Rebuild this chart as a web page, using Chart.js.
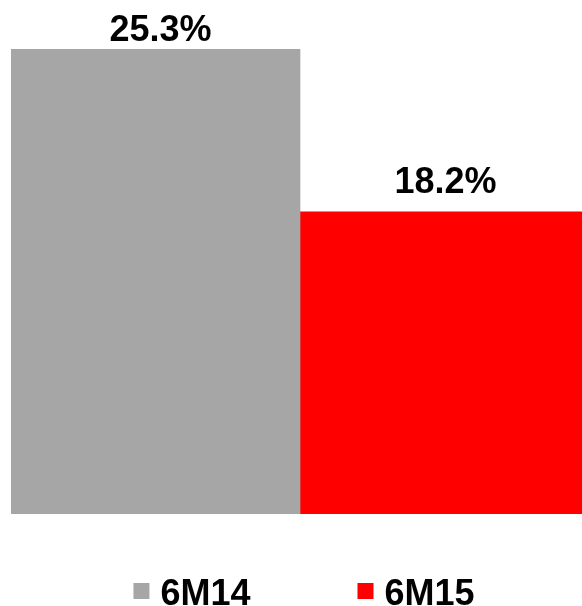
<!DOCTYPE html>
<html>
<head>
<meta charset="utf-8">
<script src="https://cdn.jsdelivr.net/npm/chart.js@4.4.1/dist/chart.umd.min.js"></script>
<style>
  html, body { margin: 0; padding: 0; background: #ffffff; overflow: hidden; }
  /* the canvas is a little wider than the frame, so the red bar is cut at the right edge */
  #wrap { width: 582px; height: 606px; position: relative; overflow: hidden; }
  #chart { display: block; }
</style>
</head>
<body>
<div id="wrap"><canvas id="chart" width="589" height="606"></canvas></div>
<script>
// Series: share for each half-year period
const categories = [''];
const seriesNames = ['6M14', '6M15'];
const seriesValues = [[25.3], [18.2]];
const seriesColors = ['#A6A6A6', '#FF0000'];

const FONT = '"Liberation Sans", Arial, Helvetica, sans-serif';

// Percentage labels written above each bar
const valueLabels = {
  id: 'valueLabels',
  afterDatasetsDraw(chart, args, opts) {
    const ctx = chart.ctx;
    ctx.save();
    ctx.font = 'bold 36px ' + FONT;
    ctx.fillStyle = '#000000';
    ctx.textAlign = 'center';
    ctx.textBaseline = 'alphabetic';
    chart.data.datasets.forEach((ds, i) => {
      const meta = chart.getDatasetMeta(i);
      meta.data.forEach((bar, j) => {
        const v = ds.data[j];
        ctx.fillText(v.toFixed(1) + '%', bar.x + opts.dx[i], bar.y - opts.gaps[i]);
      });
    });
    ctx.restore();
  }
};

// Legend row beneath the plot
const bottomLegend = {
  id: 'bottomLegend',
  afterDraw(chart, args, opts) {
    const ctx = chart.ctx;
    ctx.save();
    ctx.font = 'bold 36px ' + FONT;
    ctx.textBaseline = 'middle';
    ctx.textAlign = 'left';
    const items = chart.data.datasets.map(ds => ({
      text: ds.label,
      color: ds.backgroundColor,
      w: opts.box + opts.boxGap + ctx.measureText(ds.label).width
    }));
    const total = items.reduce((s, it) => s + it.w, 0) + opts.itemGap * (items.length - 1);
    let x = opts.centerX - total / 2;
    items.forEach(it => {
      ctx.fillStyle = it.color;
      ctx.fillRect(x, opts.centerY - opts.box / 2, opts.box, opts.box);
      ctx.fillStyle = '#000000';
      ctx.fillText(it.text, x + opts.box + opts.boxGap, opts.centerY + 4);
      x += it.w + opts.itemGap;
    });
    ctx.restore();
  }
};

new Chart(document.getElementById('chart'), {
  type: 'bar',
  data: {
    labels: categories,
    datasets: seriesNames.map((name, i) => ({
      label: name,
      data: seriesValues[i],
      backgroundColor: seriesColors[i],
      borderWidth: 0,
      barPercentage: 1,
      categoryPercentage: 1
    }))
  },
  options: {
    responsive: false,
    animation: false,
    layout: { padding: { top: 0, left: 11, right: 0, bottom: 92 } },
    scales: {
      x: { display: false },
      y: { display: false, min: 5, max: 27.45 }
    },
    plugins: {
      legend: { display: false },
      tooltip: { enabled: false },
      valueLabels: { dx: [5, 1], gaps: [8, 19] },
      bottomLegend: { box: 16, boxGap: 11, itemGap: 107, centerX: 304, centerY: 591 }
    }
  },
  plugins: [valueLabels, bottomLegend]
});
</script>
</body>
</html>
